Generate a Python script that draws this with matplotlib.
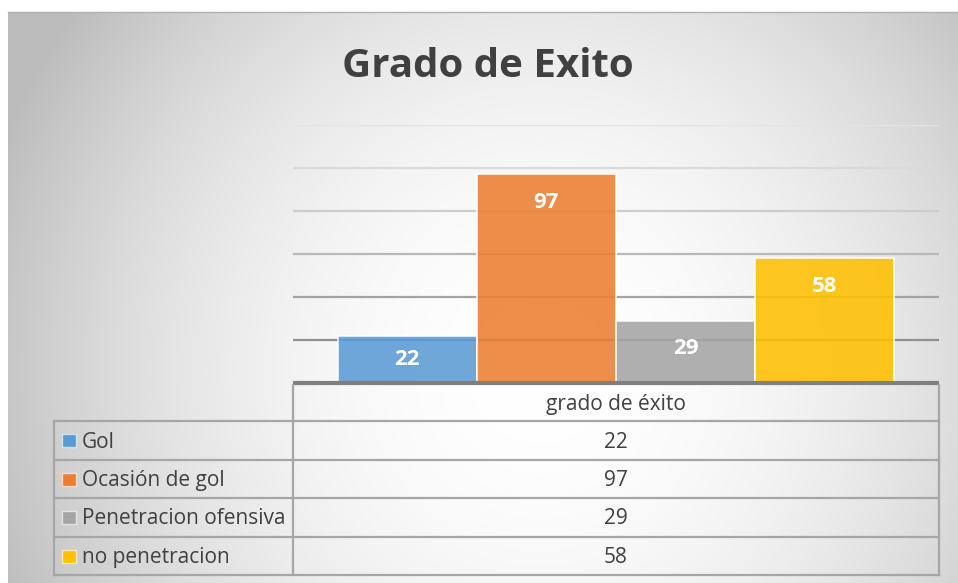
import numpy as np
from matplotlib import pyplot as plt
from matplotlib.patches import Rectangle

# data
series = ["Gol", "Ocasión de gol", "Penetracion ofensiva", "no penetracion"]
values = [22, 97, 29, 58]
category = "grado de éxito"
title = "Grado de Exito"

colors = ["#5B9BD5", "#ED7D31", "#A5A5A5", "#FFC000"]
grid_colors = ["#8f8f8f", "#a3a3a3", "#b9b9b9", "#cdcdcd", "#dadada", "#e3e3e3"]
text_col = "#404040"

W, H = 958, 583
plt.rcParams['font.family'] = ['Open Sans', 'DejaVu Sans']

fig = plt.figure(figsize=(W / 100, H / 100), dpi=100)
fig.patch.set_facecolor("white")


def px_axes(x0, y0, x1, y1):
    # pixel box (top-left origin) -> figure axes
    return fig.add_axes([x0 / W, 1 - y1 / H, (x1 - x0) / W, (y1 - y0) / H])


# radial gradient background of the chart area
bx0, by0, bx1, by1 = 8, 12, W, H
ax_bg = px_axes(bx0, by0, bx1, by1)
xx, yy = np.meshgrid(np.arange(bx0, bx1), np.arange(by0, by1))
r = np.sqrt(((xx - 540) / 580.0) ** 2 + ((yy - 370) / 600.0) ** 2)
r = np.clip(r, 0, 1)
g = 1 - 0.26 * r ** 2
ax_bg.imshow(np.dstack([g, g, g]), aspect="auto", extent=[bx0, bx1, by1, by0])
ax_bg.set_xlim(bx0, bx1)
ax_bg.set_ylim(by1, by0)
ax_bg.axis("off")

# title
fig.text(488 / W, 1 - 77 / H, title, ha="center", va="baseline",
         fontsize=29, fontweight="bold", color=text_col)

# bar plot area
ax = px_axes(293, 124.5, 939, 383)
ax.patch.set_alpha(0)
ax.set_xlim(-0.5, 0.5)
ax.set_ylim(0, 120)
ticks = np.arange(20, 121, 20)
for t, c in zip(ticks, grid_colors):
    ax.axhline(t, color=c, lw=1.6, zorder=1)

w = 0.2155
for i, (v, c) in enumerate(zip(values, colors)):
    x = (i - 1.5) * w
    ax.bar(x, v, width=w, color=c, alpha=0.88, edgecolor=(1, 1, 1, 0.5),
           linewidth=1.2, zorder=2)
    ly = max(v - 13, v / 2)
    ax.text(x, ly, str(v), ha="center", va="center", color="white",
            fontsize=16, fontweight="bold", zorder=3)

for s in ax.spines.values():
    s.set_visible(False)
ax.set_xticks([])
ax.set_yticks([])

# data table below the bars
tab = px_axes(0, 0, W, H)
tab.patch.set_alpha(0)
tab.set_xlim(0, W)
tab.set_ylim(H, 0)
tab.axis("off")

lc = "#a6a6a6"
lw = 1.6
rows_y = [421, 460, 498, 537, 575]
xl, xm, xr = 54, 293, 939

tab.plot([xm, xr], [383, 383], color="#7f7f7f", lw=3, solid_capstyle="butt")
tab.plot([xm, xm], [385, rows_y[-1]], color=lc, lw=lw)
tab.plot([xr, xr], [385, rows_y[-1]], color=lc, lw=lw)
tab.plot([xl, xl], [rows_y[0], rows_y[-1]], color=lc, lw=lw)
tab.plot([xl, xr], [rows_y[0], rows_y[0]], color=lc, lw=lw)
for y in rows_y[1:]:
    tab.plot([xl, xr], [y, y], color=lc, lw=lw)

tab.text((xm + xr) / 2, 410, category, ha="center", va="baseline",
         fontsize=15, color=text_col)
for i, (name, v, c) in enumerate(zip(series, values, colors)):
    yc = (rows_y[i] + rows_y[i + 1]) / 2
    tab.add_patch(Rectangle((62, yc - 6.5), 14, 13, facecolor=c,
                            edgecolor=(1, 1, 1, 0.6), lw=1))
    tab.text(82, yc + 7, name, ha="left", va="baseline", fontsize=15,
             color=text_col)
    tab.text((xm + xr) / 2, yc + 7, str(v), ha="center", va="baseline",
             fontsize=15, color=text_col)

# thin top border of the chart area
tab.plot([bx0, W], [by0, by0], color="#b0b0b0", lw=1)

fig.savefig("out.png", dpi=100)
